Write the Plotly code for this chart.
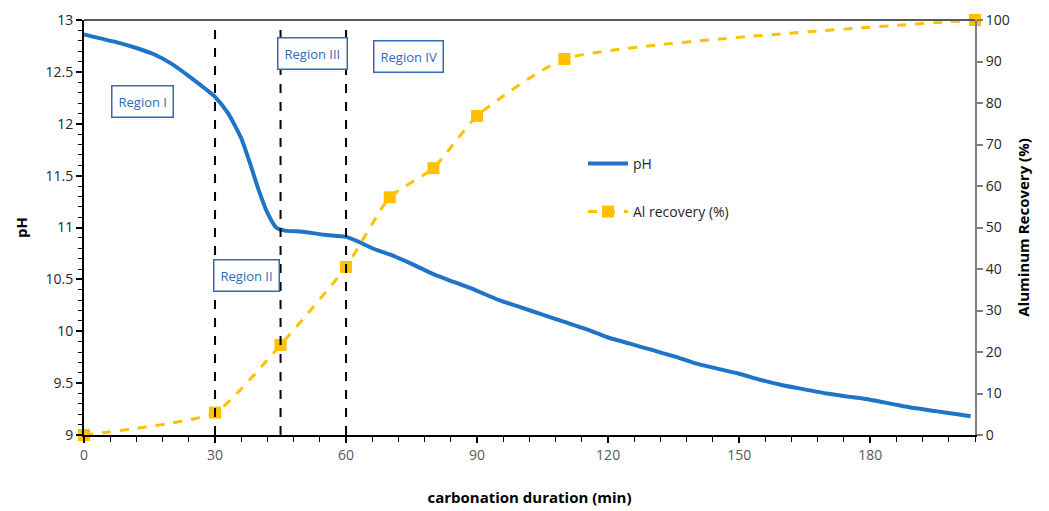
import plotly.graph_objects as go

# ---- data ----
time_min = [0, 2, 4, 8, 12, 16, 20, 24, 28, 30, 33, 36, 38, 40, 42, 44, 46, 50, 55, 60,
            63, 66, 70, 75, 80, 85, 90, 95, 100, 105, 110, 115, 120, 125, 130, 135, 140,
            145, 150, 155, 160, 165, 170, 175, 180, 185, 190, 195, 200, 203]
ph = [12.86, 12.84, 12.82, 12.78, 12.73, 12.67, 12.58, 12.46, 12.33, 12.26, 12.10, 11.86,
      11.62, 11.36, 11.14, 11.00, 10.97, 10.96, 10.93, 10.91, 10.86, 10.80, 10.74, 10.65,
      10.55, 10.47, 10.39, 10.30, 10.23, 10.16, 10.09, 10.02, 9.94, 9.88, 9.82, 9.76, 9.69,
      9.64, 9.59, 9.53, 9.48, 9.44, 9.40, 9.37, 9.34, 9.30, 9.26, 9.23, 9.20, 9.18]

al_time = [0, 30, 45, 60, 70, 80, 90, 110, 204]
al_recovery = [0, 5.4, 21.7, 40.5, 57.3, 64.3, 76.9, 90.6, 100]

region_bounds = [30, 45, 60]
region_labels = ["Region I", "Region II", "Region III", "Region IV"]

x_ticks = [0, 30, 60, 90, 120, 150, 180]
ph_ticks = [9, 9.5, 10, 10.5, 11, 11.5, 12, 12.5, 13]
rec_ticks = [0, 10, 20, 30, 40, 50, 60, 70, 80, 90, 100]

FONT = "Open Sans"
BLUE = "#1F74C8"
GOLD = "#FFC000"
BOXBLUE = "#2E6DB4"

fig = go.Figure()

fig.add_trace(go.Scatter(
    x=time_min, y=ph, name="pH", mode="lines",
    line=dict(color=BLUE, width=4, shape="spline", smoothing=0.6),
    legendgroup="a", yaxis="y"))

fig.add_trace(go.Scatter(
    x=al_time, y=al_recovery, name="Al recovery (%)", mode="lines+markers",
    line=dict(color=GOLD, width=3, dash="dash", shape="spline", smoothing=0.5),
    marker=dict(symbol="square", size=12, color=GOLD),
    cliponaxis=False, legendgroup="b", yaxis="y2"))

# vertical region boundaries
for b in region_bounds:
    fig.add_shape(type="line", xref="x", yref="paper", x0=b, x1=b, y0=0, y1=1,
                  line=dict(color="black", width=2, dash="dash"), layer="above")

# top border
fig.add_shape(type="line", xref="paper", yref="paper", x0=0, x1=1, y0=1, y1=1,
              line=dict(color="#595959", width=2))

# region labels
label_pos = [(13.3, 12.21), (37.2, 10.54), (52.3, 12.68), (74.4, 12.65)]
for (lx, ly), txt in zip(label_pos, region_labels):
    fig.add_annotation(x=lx, y=ly, xref="x", yref="y", text=txt, showarrow=False,
                       font=dict(family=FONT, size=13, color=BOXBLUE),
                       bordercolor=BOXBLUE, borderwidth=1.5, borderpad=6,
                       bgcolor="white")

fig.update_layout(
    width=1049, height=511,
    margin=dict(l=84, r=74, t=20, b=76, autoexpand=False),
    paper_bgcolor="white", plot_bgcolor="white",
    font=dict(family=FONT, size=14, color="#262626"),
    showlegend=True,
    legend=dict(x=0.56, y=0.692, xanchor="left", yanchor="top",
                bgcolor="rgba(0,0,0,0)", tracegroupgap=27,
                font=dict(family=FONT, size=14, color="#262626"),
                itemwidth=40),
    xaxis=dict(range=[0, 204], tickvals=x_ticks, showgrid=False, zeroline=False,
               automargin=False,
               showline=True, linecolor="black", linewidth=2,
               ticks="outside", ticklen=6, tickcolor="black", tickwidth=1.5,
               minor=dict(dtick=6, tick0=0, ticks="outside", ticklen=5,
                          tickcolor="black", tickwidth=1.2),
               tickfont=dict(color="#595959", size=14, family=FONT),
               title=dict(text="<b>carbonation duration (min)</b>", standoff=30,
                          font=dict(size=15, color="black", family=FONT))),
    yaxis=dict(range=[9, 13], tickvals=ph_ticks, ticktext=[f"{v:g}" for v in ph_ticks],
               showgrid=False, zeroline=False, automargin=False,
               showline=True, linecolor="black", linewidth=2,
               ticks="outside", ticklen=6, tickcolor="black", tickwidth=1.5,
               minor=dict(dtick=0.1, tick0=9, ticks="outside", ticklen=4,
                          tickcolor="black", tickwidth=1.2),
               tickfont=dict(color="#262626", size=14, family=FONT),
               title=dict(text="<b>pH</b>", standoff=14,
                          font=dict(size=15, color="black", family=FONT))),
    yaxis2=dict(range=[0, 100], tickvals=rec_ticks, overlaying="y", side="right",
                showgrid=False, zeroline=False, automargin=False,
                showline=True, linecolor="#7F7F7F", linewidth=2,
                ticks="outside", ticklen=6, tickcolor="#7F7F7F", tickwidth=1.5,
                tickfont=dict(color="#262626", size=14, family=FONT),
                title=dict(text="<b>Aluminum Recovery (%)</b>", standoff=10,
                           font=dict(size=15, color="black", family=FONT))),
)

fig.write_html("out.html")
